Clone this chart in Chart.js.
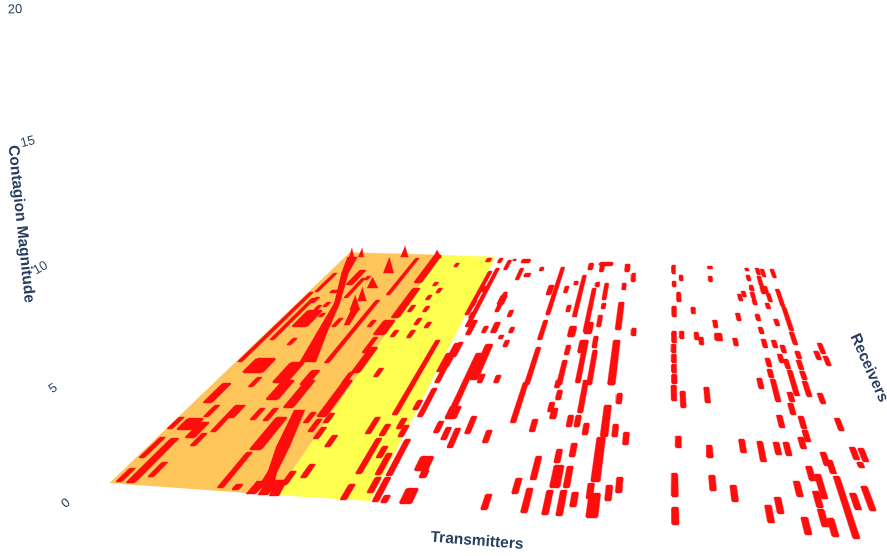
<!DOCTYPE html>
<html><head><meta charset="utf-8">
<style>html,body{margin:0;padding:0;background:#fff}canvas{display:block}</style>
<script src="https://cdn.jsdelivr.net/npm/chart.js@4"></script>
</head><body><canvas id="c" width="887" height="556"></canvas>
<script>
// Floor coordinates: transmitter position T, receiver position R.
const orangeBandT=[92,92,259,271.5], orangeBandR=[483,252.5,255,495];
const yellowBandT=[271.5,259,360.5,370.5], yellowBandR=[495,255,257,501];
const magnitudeTicks=[0,5,10,15,20];
const tickRotation=[-40,-35,-30,-15,-3];
// [transmitter, receiver front, receiver back, width]
const cellsRight=[[680,274,265],[680,287,281],[679,317,306],[678,343,331],[677,353,344],[677,363,354],[677,373,364],[677,384,374],[676,401,385],[675,497,473],[675,525,507],
[692,281,275],[687,302,292],[708,314,307],[743,269,266,9],[741,282,276],[739,328,320],[741,341,333,11],[689,339,331],[710,340,332],[716,345,337],[687,408,391],[717,403,387],[680,448,436],[714,458,445],[751,453,439],[771,462,441],[789,455,442],[800,456,442],[818,449,437],[825,442,430],[714,491,475],[735,502,485],[767,523,505],[778,514,497],[801,497,481],[800,535,517],[818,481,466],[818,508,491],[825,499,474],[818,527,509],[825,537,518],[838,466,452],[842,474,460],[844,539,476],[855,510,493],[869,511,486],[872,460,447],[874,468,462],[881,462,448],[867,431,418],[825,429,416],[817,415,403],[800,428,415],[820,402,392],[803,402,379],[828,396,370],[843,397,381],[857,404,393],[786,389,378],
[764,346,338],[775,321,313],[784,301,294],[791,297,291],[806,271,268],[805,281,275],[806,291,285],[805,299,292],[805,305,299],[824,275,268],[832,277,269],[823,287,276],[823,294,287],[828,293,286],[830,302,293],[824,309,303],[849,278,269],[847,307,289],[848,331,307],[847,345,332],[804,321,314],[804,334,327],[804,348,339],[830,326,319],[818,348,340],[828,353,345],[821,363,354],[827,369,359],[803,367,358],[802,378,369],[846,359,351],[844,370,360],[844,380,371],[872,360,351],[881,354,343],[882,366,356]];
const cellsMiddle=[[345,415,340],[376,417,388],[366,410,400],[327,434,417],[344,436,424],[359,429,418],[366,437,425],[343,474,438],[355,458,446],[376,476,439],[364,475,453],[366,493,477],[376,502,477],[343,500,484],[385,503,495],[407,504,488,13],[407,471,456,15],[412,478,470,8],[404,433,421],[416,440,427],[427,448,428],[411,419,353,8],[413,419,406,14],[440,434,416],[464,443,430],[487,510,494],[488,423,382],[513,432,419],[513,494,478],[527,513,488],[528,480,456],[548,515,490],[552,488,465,11],[549,463,449],[562,516,490],[564,488,466],[564,457,443],[574,507,492],[589,499,483],[594,518,493,12],[608,501,485],[618,493,477],[593,482,437,10],[621,445,432],[596,437,405,9],[608,437,424],[609,404,393],[563,427,415],[554,427,415],[574,435,423],[564,413,380],[533,419,408,8],[528,412,402],[534,400,390],[529,388,380],[597,385,380],[429,383,374],[450,383,375],
[490,385,347],[488,340,320],[488,315,267],[479,295,285,9],[505,293,286],[517,312,305],[518,285,281],[531,385,360],[531,355,345],[531,337,326,11],[529,317,275],[554,383,340],[550,353,340,10],[550,332,288],[554,334,322,12],[569,385,350],[567,348,336],[568,327,315],[536,270,263,9],[562,266,262,24],[556,272,265,8],[554,287,282],[569,300,283],[570,309,303],[597,385,340,10],[597,330,302,9],[598,290,283],[600,272,264,9],[612,282,273],[620,336,328],
[409,312,292],[409,305,295,11],[431,317,310],[404,333,326],[418,333,322,9],[443,333,327],[432,339,335],[443,347,340],[420,380,344,11],[418,280,268],[432,277,273,11],[452,271,267],[419,263,259,16],[398,261,259,6],[390,270,260],[373,263,258],[376,327,268],[366,315,271],[367,307,300],[370,292,286],[352,262,258,9]];
const cellsLeft=[[292,377,368],[277,337,330],[301,338,330],[299,325,318],[317,328,322],[276,312,305],[299,312,306],[291,300,295],[300,293,288],[287,286,282],[301,267,263],[370,372,353],[375,367,343,9],[379,357,342],[374,318,312],[383,335,320,8],[375,383,363],
[97,362,292],[104,292,273],[110,340,298],[141,345,338],[128,373,358,28],[131,327,310,24],[148,317,313],[131,310,305],[140,307,302],[115,303,297],[132,293,290,12],[181,327,318],[160,298,278],[166,280,276],[146,285,270,12],[214,363,300],[223,295,258],[261,318,288,13],[256,283,255,14],[233,327,320],[256,335,320,18],[254,353,337],[262,373,347,12],[257,383,372],[175,383,362,20],[208,385,370,12],[143,387,377],
[100,482,468],[113,483,438,10],[128,477,462],[98,458,437],[96,429,417],[141,446,433],[114,430,418,20],[129,438,422,12],[149,432,405],[124,417,405],[109,403,383,12],[155,418,405],[182,420,408],[198,421,408],[184,400,380,16],[212,408,380,13],[260,417,380,12],[247,423,412],[260,432,419],[270,423,413],[272,439,427],[291,447,435],[288,478,464],[273,485,471],[214,450,417,14],[210,488,452],[227,490,484,8]];
// Ridges that cross transmitters: [T front, R front, width front, T back, R back, width back]
const ridges=[[188,362,22,172,333,15],[172,333,15,154,303,9],[154,303,9,120,273,12],[120,273,12,105,257,18],[105,258,10,87,248,0],[120,257,10,106,248,0],[198,257,14,182,246,0],[258,258,16,247,250,0],[194,273,18,171,257,0],[189,288,18,173,277,0],[190,301,14,171,287,0],[191,310,16,171,295,0],[198,325,8,191,310,12],[253,477,9,242,447,15],[242,447,15,228,410,13],[256,486,16,250,470,9],
[246,494,10,248,481,12],[259,495,10,259,481,14],[271,496,10,267,480,12]];
const vanishX=665, vanishR=-50, refDepth=550;
function project(T,R){return {x:vanishX+(T-vanishX)*(R-vanishR)/refDepth,y:R};}
function magnitudePoint(m){return {x:66-2.55*m,y:503.5-22.48*m/(1-0.004485*m)};}
const RED='#ff0d0d';
function poly(points,color,order){return {data:points,parsing:false,showLine:true,fill:'shape',backgroundColor:color,borderColor:color,borderWidth:0.4,pointRadius:0,pointHitRadius:0,order:order,tension:0};}
const datasets=[];
function band(Ts,Rs,color,order){datasets.push(poly(Ts.map((t,i)=>project(t,Rs[i])),color,order));}
band(orangeBandT,orangeBandR,'#fdc55a',3);
band(yellowBandT,yellowBandR,'#ffff50',4);
[...cellsRight,...cellsMiddle,...cellsLeft].forEach(([t,r0,r1,w=7])=>{
  const c=Math.min(1.2,(r0-r1)/5), n=w*0.38, h=w/2;
  datasets.push(poly([[t-n,r0],[t+n,r0],[t+h,r0-c],[t+h,r1+c],[t+n,r1],[t-n,r1],[t-h,r1+c],[t-h,r0-c]].map(p=>project(p[0],p[1])),RED,1));
});
ridges.forEach(([t0,r0,w0,t1,r1,w1])=>{
  datasets.push(poly([project(t0-w0/2,r0),project(t0+w0/2,r0),project(t1+w1/2,r1),project(t1-w1/2,r1)],RED,1));
});
const tickDataset=datasets.length;
datasets.push({data:magnitudeTicks.map(magnitudePoint),parsing:false,showLine:false,pointRadius:0,order:0});
const axisTitles=[{text:'Transmitters',T:477,R:541,rot:4.5},{text:'Receivers',T:869,R:368,rot:66},{text:'Contagion Magnitude',T:21,R:224,rot:84}];
const axisTextPlugin={id:'axisText',afterDatasetsDraw(chart){
  const c=chart.ctx,sx=chart.scales.x,sy=chart.scales.y;
  c.save();c.fillStyle='#2a3f5f';c.textAlign='center';c.textBaseline='middle';
  c.font='13px "Liberation Sans"';
  chart.getDatasetMeta(tickDataset).data.forEach((p,i)=>{
    c.save();c.translate(p.x,p.y);c.rotate(tickRotation[i]*Math.PI/180);c.fillText(String(magnitudeTicks[i]),0,0);c.restore();
  });
  c.font='bold 15.5px "Liberation Sans"';
  axisTitles.forEach(t=>{
    c.save();c.translate(sx.getPixelForValue(t.T),sy.getPixelForValue(t.R));c.rotate(t.rot*Math.PI/180);c.fillText(t.text,0,0);c.restore();
  });
  c.restore();
}};
new Chart(document.getElementById('c'),{type:'scatter',data:{datasets},plugins:[axisTextPlugin],options:{
  responsive:false,animation:false,events:[],layout:{padding:0},
  plugins:{legend:{display:false},tooltip:{enabled:false}},
  scales:{x:{type:'linear',min:0,max:887,display:false},y:{type:'linear',min:0,max:556,reverse:true,display:false}}
}});
</script></body></html>
